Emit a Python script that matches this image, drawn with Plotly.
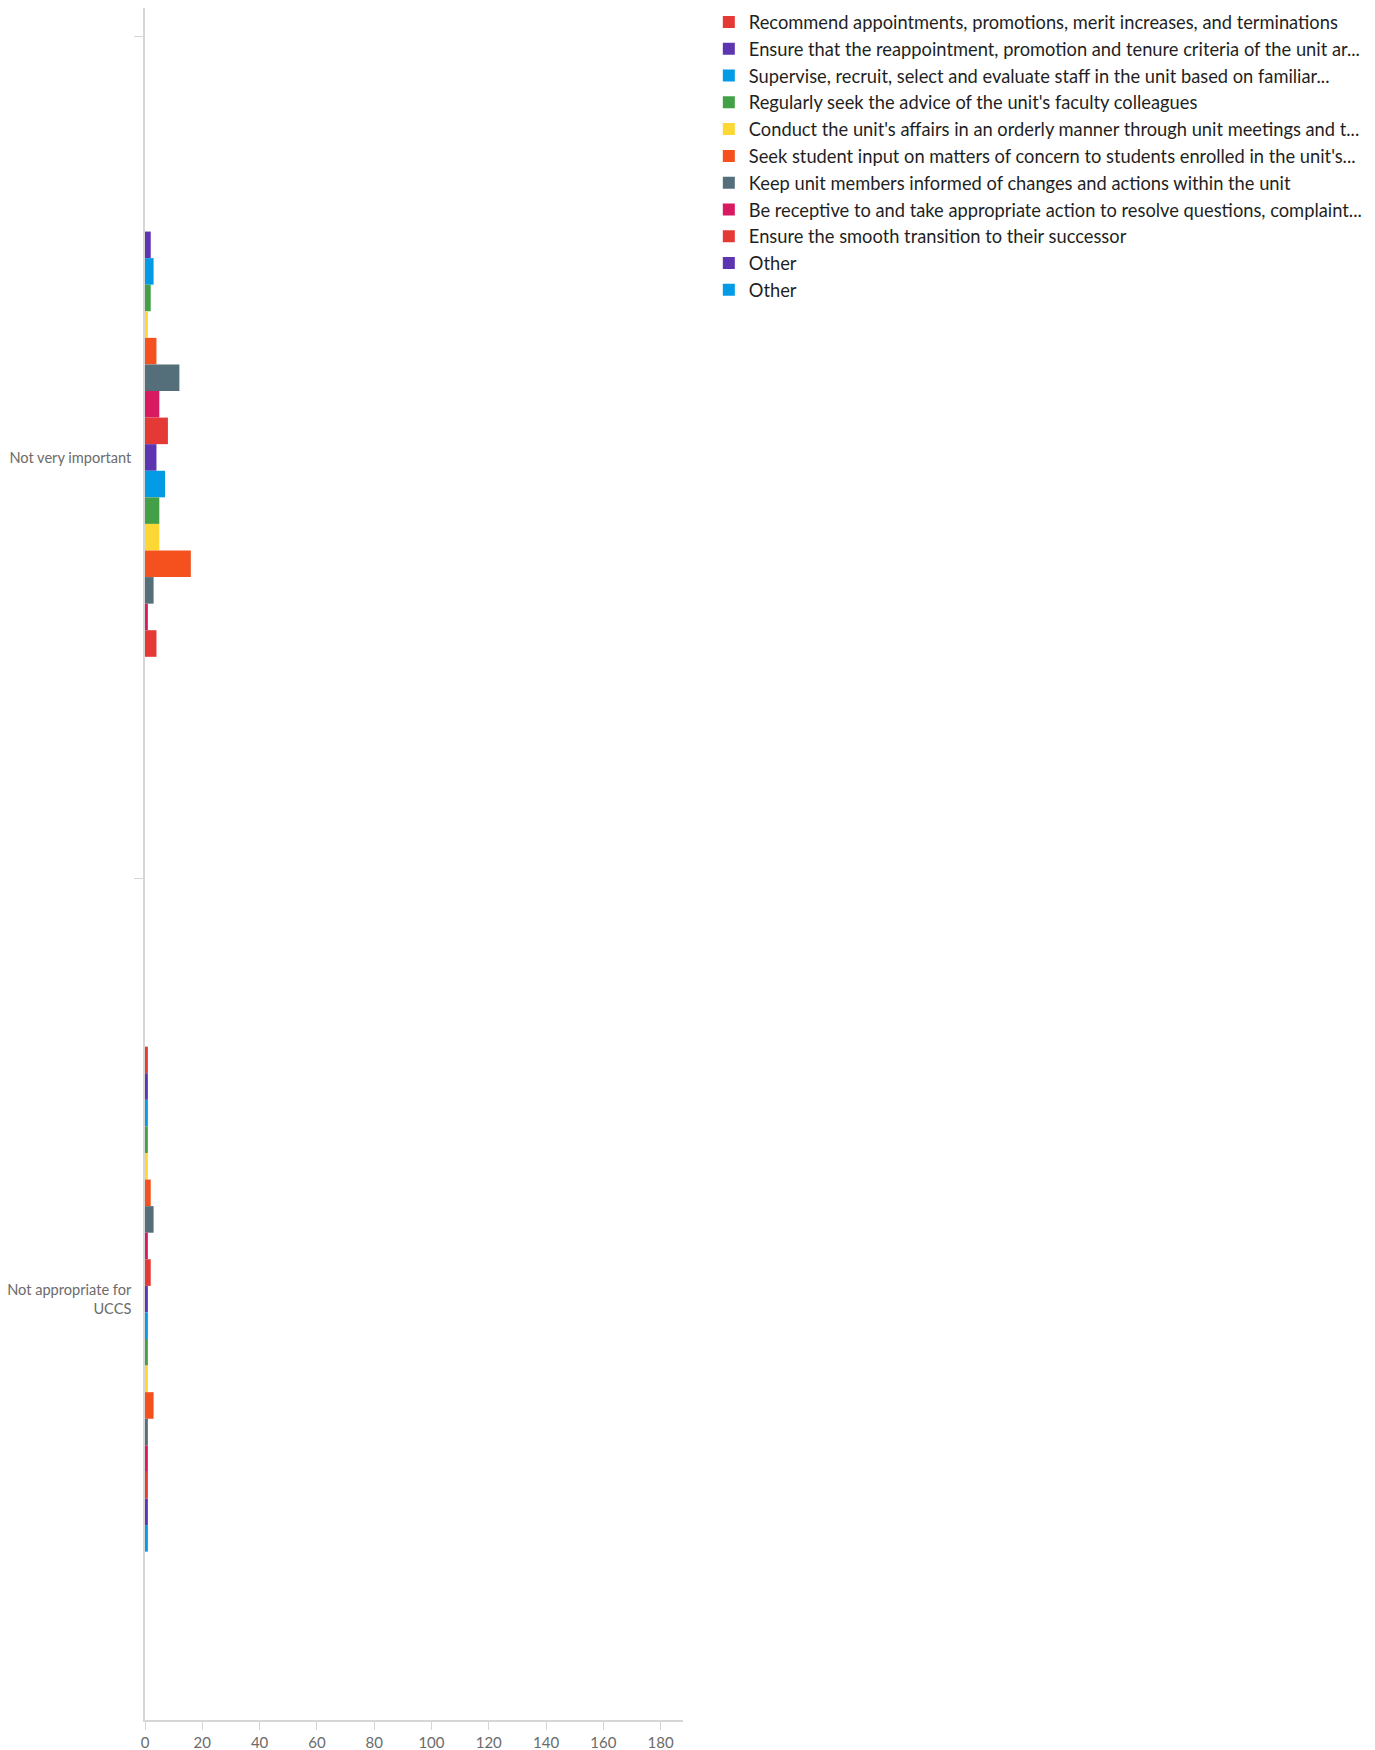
import plotly.graph_objects as go

# Response categories (top to bottom)
categories = ["Not very important", "Not appropriate for<br>UCCS"]

# Series names as listed in the legend
series_names = [
    "Recommend appointments, promotions, merit increases, and terminations",
    "Ensure that the reappointment, promotion and tenure criteria of the unit ar...",
    "Supervise, recruit, select and evaluate staff in the unit based on familiar...",
    "Regularly seek the advice of the unit's faculty colleagues",
    "Conduct the unit's affairs in an orderly manner through unit meetings and t...",
    "Seek student input on matters of concern to students enrolled in the unit's...",
    "Keep unit members informed of changes and actions within the unit",
    "Be receptive to and take appropriate action to resolve questions, complaint...",
    "Ensure the smooth transition to their successor",
    "Other",
    "Other",
    "Item 12", "Item 13", "Item 14", "Item 15", "Item 16", "Item 17", "Item 18", "Item 19",
]
legend_count = 11

# Counts per series for each category
not_very_important = [0, 2, 3, 2, 1, 4, 12, 5, 8, 4, 7, 5, 5, 16, 3, 1, 4, 0, 0]
not_appropriate = [1, 1, 1, 1, 1, 2, 3, 1, 2, 1, 1, 1, 1, 3, 1, 1, 1, 1, 1]

palette = ["#E53935", "#5E35B1", "#039BE5", "#43A047",
           "#FDD835", "#F4511E", "#546E7A", "#D81B60"]

x_ticks = list(range(0, 181, 20))

fig = go.Figure()
for i, name in enumerate(series_names):
    fig.add_trace(go.Bar(
        y=categories,
        x=[not_very_important[i], not_appropriate[i]],
        name=name,
        orientation="h",
        marker=dict(color=palette[i % len(palette)], line=dict(width=0)),
        showlegend=i < legend_count,
    ))

axis_grey = "#d6d6d6"
label_grey = "#6b6b6b"
font_family = "Lato, 'Liberation Sans', Arial, sans-serif"

fig.update_layout(
    width=1375,
    height=1750,
    margin=dict(l=145, r=692, t=8, b=30, autoexpand=False),
    barmode="group",
    bargap=0.4,
    bargroupgap=0,
    paper_bgcolor="white",
    plot_bgcolor="white",
    font=dict(family=font_family),
    xaxis=dict(
        range=[0, 187.8],
        tickvals=x_ticks,
        ticks="outside",
        ticklen=8,
        tickcolor=axis_grey,
        showline=True,
        linecolor=axis_grey,
        linewidth=1.5,
        showgrid=False,
        zeroline=False,
        automargin=False,
        tickfont=dict(size=15, color=label_grey),
    ),
    yaxis=dict(
        type="category",
        categoryorder="array",
        categoryarray=categories,
        range=[1.5, -0.534],
        ticks="outside",
        tickson="boundaries",
        ticklen=9,
        tickcolor=axis_grey,
        ticklabelstandoff=9,
        showline=True,
        linecolor=axis_grey,
        linewidth=1.5,
        showgrid=False,
        zeroline=False,
        automargin=False,
        tickfont=dict(size=14.6, color=label_grey),
    ),
    legend=dict(
        x=1.048,
        xanchor="left",
        y=1.0026,
        yanchor="top",
        font=dict(size=18.3, color="#1f1f1f", family=font_family),
        bgcolor="rgba(0,0,0,0)",
        tracegroupgap=0,
    ),
)

fig.write_html("out.html")
